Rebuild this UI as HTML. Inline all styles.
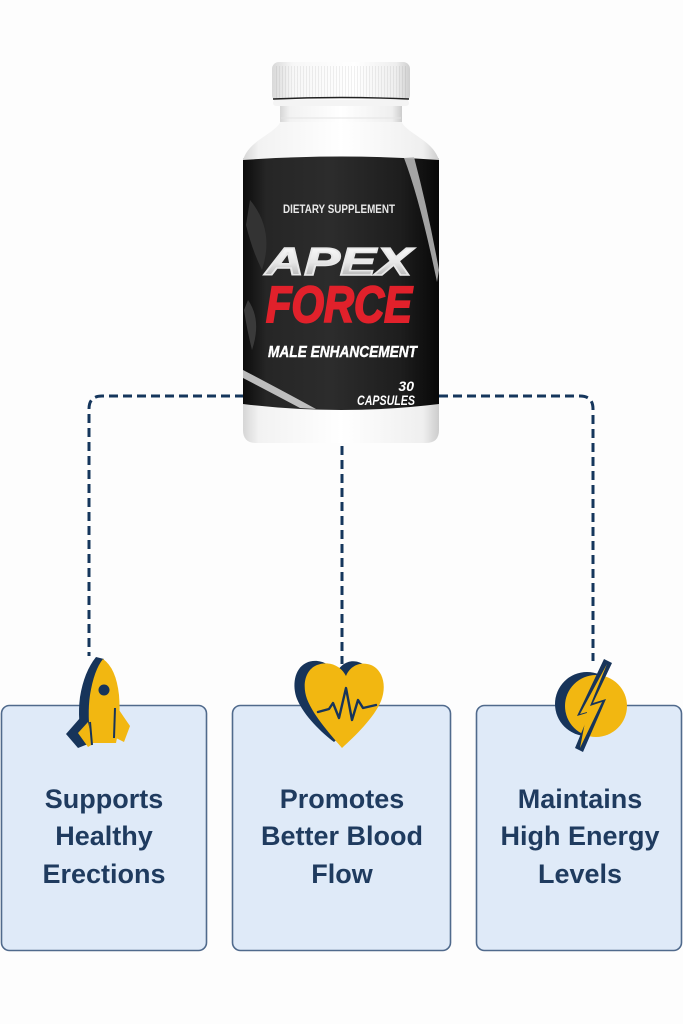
<!DOCTYPE html>
<html>
<head>
<meta charset="utf-8">
<style>
html,body{margin:0;padding:0;background:#fdfdfd;}
svg{display:block;}
</style>
</head>
<body>
<svg width="683" height="1024" viewBox="0 0 683 1024" xmlns="http://www.w3.org/2000/svg">
<defs>
  <linearGradient id="capG" x1="0" x2="1" y1="0" y2="0">
    <stop offset="0" stop-color="#d9d9d9"/>
    <stop offset="0.15" stop-color="#f7f7f7"/>
    <stop offset="0.6" stop-color="#ffffff"/>
    <stop offset="0.9" stop-color="#eeeeee"/>
    <stop offset="1" stop-color="#cfcfcf"/>
  </linearGradient>
  <pattern id="ridges" width="3" height="40" patternUnits="userSpaceOnUse">
    <rect x="0" y="0" width="1" height="40" fill="#000" opacity="0.06"/>
  </pattern>
  <linearGradient id="bodyG" x1="0" x2="1" y1="0" y2="0">
    <stop offset="0" stop-color="#d6d6d6"/>
    <stop offset="0.08" stop-color="#f2f2f2"/>
    <stop offset="0.5" stop-color="#ffffff"/>
    <stop offset="0.92" stop-color="#efefef"/>
    <stop offset="1" stop-color="#cccccc"/>
  </linearGradient>
  <linearGradient id="labelG" x1="0" x2="1" y1="0" y2="0">
    <stop offset="0" stop-color="#0c0c0c"/>
    <stop offset="0.12" stop-color="#262626"/>
    <stop offset="0.45" stop-color="#2c2c2c"/>
    <stop offset="0.8" stop-color="#1e1e1e"/>
    <stop offset="1" stop-color="#080808"/>
  </linearGradient>
  <linearGradient id="apexG" x1="0" x2="0" y1="0" y2="1">
    <stop offset="0" stop-color="#ffffff"/>
    <stop offset="0.5" stop-color="#e6e6e6"/>
    <stop offset="1" stop-color="#9a9a9a"/>
  </linearGradient>
</defs>

<rect width="683" height="1024" fill="#fdfdfd"/>

<!-- connectors -->
<g fill="none" stroke="#15365c" stroke-width="3" stroke-dasharray="9 5">
  <path d="M244,396 H102 Q89,396 89,409 V656"/>
  <path d="M439,396 H580 Q593,396 593,409 V661"/>
  <path d="M342,446 V664"/>
</g>

<!-- bottle -->
<g>
  <!-- shoulder / neck -->
  <path d="M282,118 L400,118 C404,134 432,138 439,160 L243,160 C250,138 278,134 282,118 Z" fill="url(#bodyG)"/>
  <rect x="280" y="104" width="122" height="18" fill="url(#bodyG)"/>
  <line x1="281" y1="118" x2="401" y2="118" stroke="#e4e4e4" stroke-width="1"/>
  <!-- cap -->
  <rect x="272" y="62" width="138" height="40" rx="7" fill="url(#capG)"/>
  <rect x="274" y="66" width="134" height="32" fill="url(#ridges)"/>
  <path d="M273,99 Q341,96 409,99" stroke="#222" stroke-width="1.4" fill="none"/>
  <rect x="273" y="100" width="136" height="6" rx="3" fill="#f4f4f4"/>
  <!-- body -->
  <path d="M243,158 H439 V430 Q439,443 426,443 H256 Q243,443 243,430 Z" fill="url(#bodyG)"/>
  <!-- label -->
  <path d="M243,160 Q341,153 439,160 V404 Q341,416 243,404 Z" fill="url(#labelG)"/>
  <!-- swooshes -->
  <path d="M404,158 Q420,200 437,282 L439,270 Q428,210 414,157 Z" fill="#bdbdbd" opacity="0.85"/>
  <path d="M243,378 Q270,392 300,408 L316,409 Q285,392 243,370 Z" fill="#cfcfcf" opacity="0.9"/>
  <path d="M248,300 Q262,320 252,350 Q247,330 244,310 Z" fill="#3a3a3a"/>
  <path d="M250,200 Q275,230 262,270 Q252,250 246,225 Z" fill="#333"/>
  <!-- label text -->
  <text x="339" y="213" text-anchor="middle" font-family="Liberation Sans, sans-serif" font-weight="bold" font-size="11.5" fill="#e9e9e9" textLength="112" lengthAdjust="spacingAndGlyphs">DIETARY SUPPLEMENT</text>
  <text x="265" y="275" font-family="Liberation Sans, sans-serif" font-weight="bold" font-style="italic" font-size="39" fill="url(#apexG)" stroke="#e8e8e8" stroke-width="1.5" textLength="147" lengthAdjust="spacingAndGlyphs">APEX</text>
  <text x="266" y="322" font-family="Liberation Sans, sans-serif" font-weight="bold" font-style="italic" font-size="51" fill="#e1212b" stroke="#e1212b" stroke-width="2" textLength="146" lengthAdjust="spacingAndGlyphs">FORCE</text>
  <text x="268" y="357" font-family="Liberation Sans, sans-serif" font-weight="bold" font-style="italic" font-size="15.5" fill="#ffffff" stroke="#fff" stroke-width="0.4" textLength="149" lengthAdjust="spacingAndGlyphs">MALE ENHANCEMENT</text>
  <text x="414" y="391" text-anchor="end" font-family="Liberation Sans, sans-serif" font-weight="bold" font-style="italic" font-size="14" fill="#ffffff">30</text>
  <text x="357" y="405" font-family="Liberation Sans, sans-serif" font-weight="bold" font-style="italic" font-size="14" fill="#ffffff" textLength="58" lengthAdjust="spacingAndGlyphs">CAPSULES</text>
</g>

<!-- boxes -->
<g fill="#dfeaf8" stroke="#506a8c" stroke-width="1.6">
  <rect x="1.5" y="705.5" width="205" height="245" rx="8"/>
  <rect x="232.5" y="705.5" width="218" height="245" rx="8"/>
  <rect x="476.5" y="705.5" width="205" height="245" rx="8"/>
</g>

<!-- rocket -->
<g>
  <path d="M96,657 L104,659 Q92,675 90,700 Q88,725 92,744 L83,745 Q77,720 80,697 Q84,672 96,657 Z" fill="#17345a"/>
  <path d="M80,718 L66,734 L78,748 L88,744 Z" fill="#17345a"/>
  <path d="M103,659 Q116,668 119,695 Q121,720 116,743 L91,743 Q87,715 90,695 Q94,670 103,659 Z" fill="#f2b711"/>
  <path d="M88,722 L78,733 L88,747 L93,744 Z" fill="#f2b711"/>
  <path d="M117,707 L130,726 L124,742 L114,737 Z" fill="#f2b711"/>
  <path d="M115,708 L114,738" stroke="#17345a" stroke-width="2" fill="none"/>
  <path d="M90,722 L92,745" stroke="#17345a" stroke-width="2" fill="none"/>
  <circle cx="104" cy="690" r="5.5" fill="#17345a"/>
</g>

<!-- heart -->
<g>
  <path d="M336,674 C330,662 316,658 306,663 C294,669 292,686 297,699 C304,716 322,733 334,742 C346,732 365,714 372,698 C377,684 373,668 361,663 C350,658 340,664 336,674 Z" fill="#17345a"/>
  <path d="M346,676 C340,664 327,661 317,665 C305,670 302,685 307,699 C314,717 332,736 342,748 C355,736 374,718 381,701 C387,686 383,670 371,665 C360,661 350,666 346,676 Z" fill="#f2b711"/>
  <polyline points="318,712 329,709 333,703 339,718 346,688 352,720 358,700 363,708 376,705" fill="none" stroke="#17345a" stroke-width="2.4" stroke-linejoin="round" stroke-linecap="round"/>
</g>

<!-- lightning -->
<g>
  <circle cx="587" cy="704" r="32" fill="#17345a"/>
  <circle cx="596" cy="706" r="31" fill="#f2b711"/>
  <path d="M604,659 L612,663 L593,703 L606,699 L583,752 L575,748 L590,712 L577,716 Z" fill="#17345a"/>
  <path d="M607,664 L590,706 L602,702 L580,748 L587,712 L580,714 Z" fill="#f2b711"/>
</g>

<!-- box text -->
<g font-family="Liberation Sans, sans-serif" font-weight="bold" font-size="27" fill="#1f3b5f" text-anchor="middle">
  <text x="104" y="808">Supports</text>
  <text x="104" y="845">Healthy</text>
  <text x="104" y="883">Erections</text>
  <text x="342" y="808">Promotes</text>
  <text x="342" y="845">Better Blood</text>
  <text x="342" y="883">Flow</text>
  <text x="580" y="808">Maintains</text>
  <text x="580" y="845">High Energy</text>
  <text x="580" y="883">Levels</text>
</g>
</svg>
</body>
</html>
